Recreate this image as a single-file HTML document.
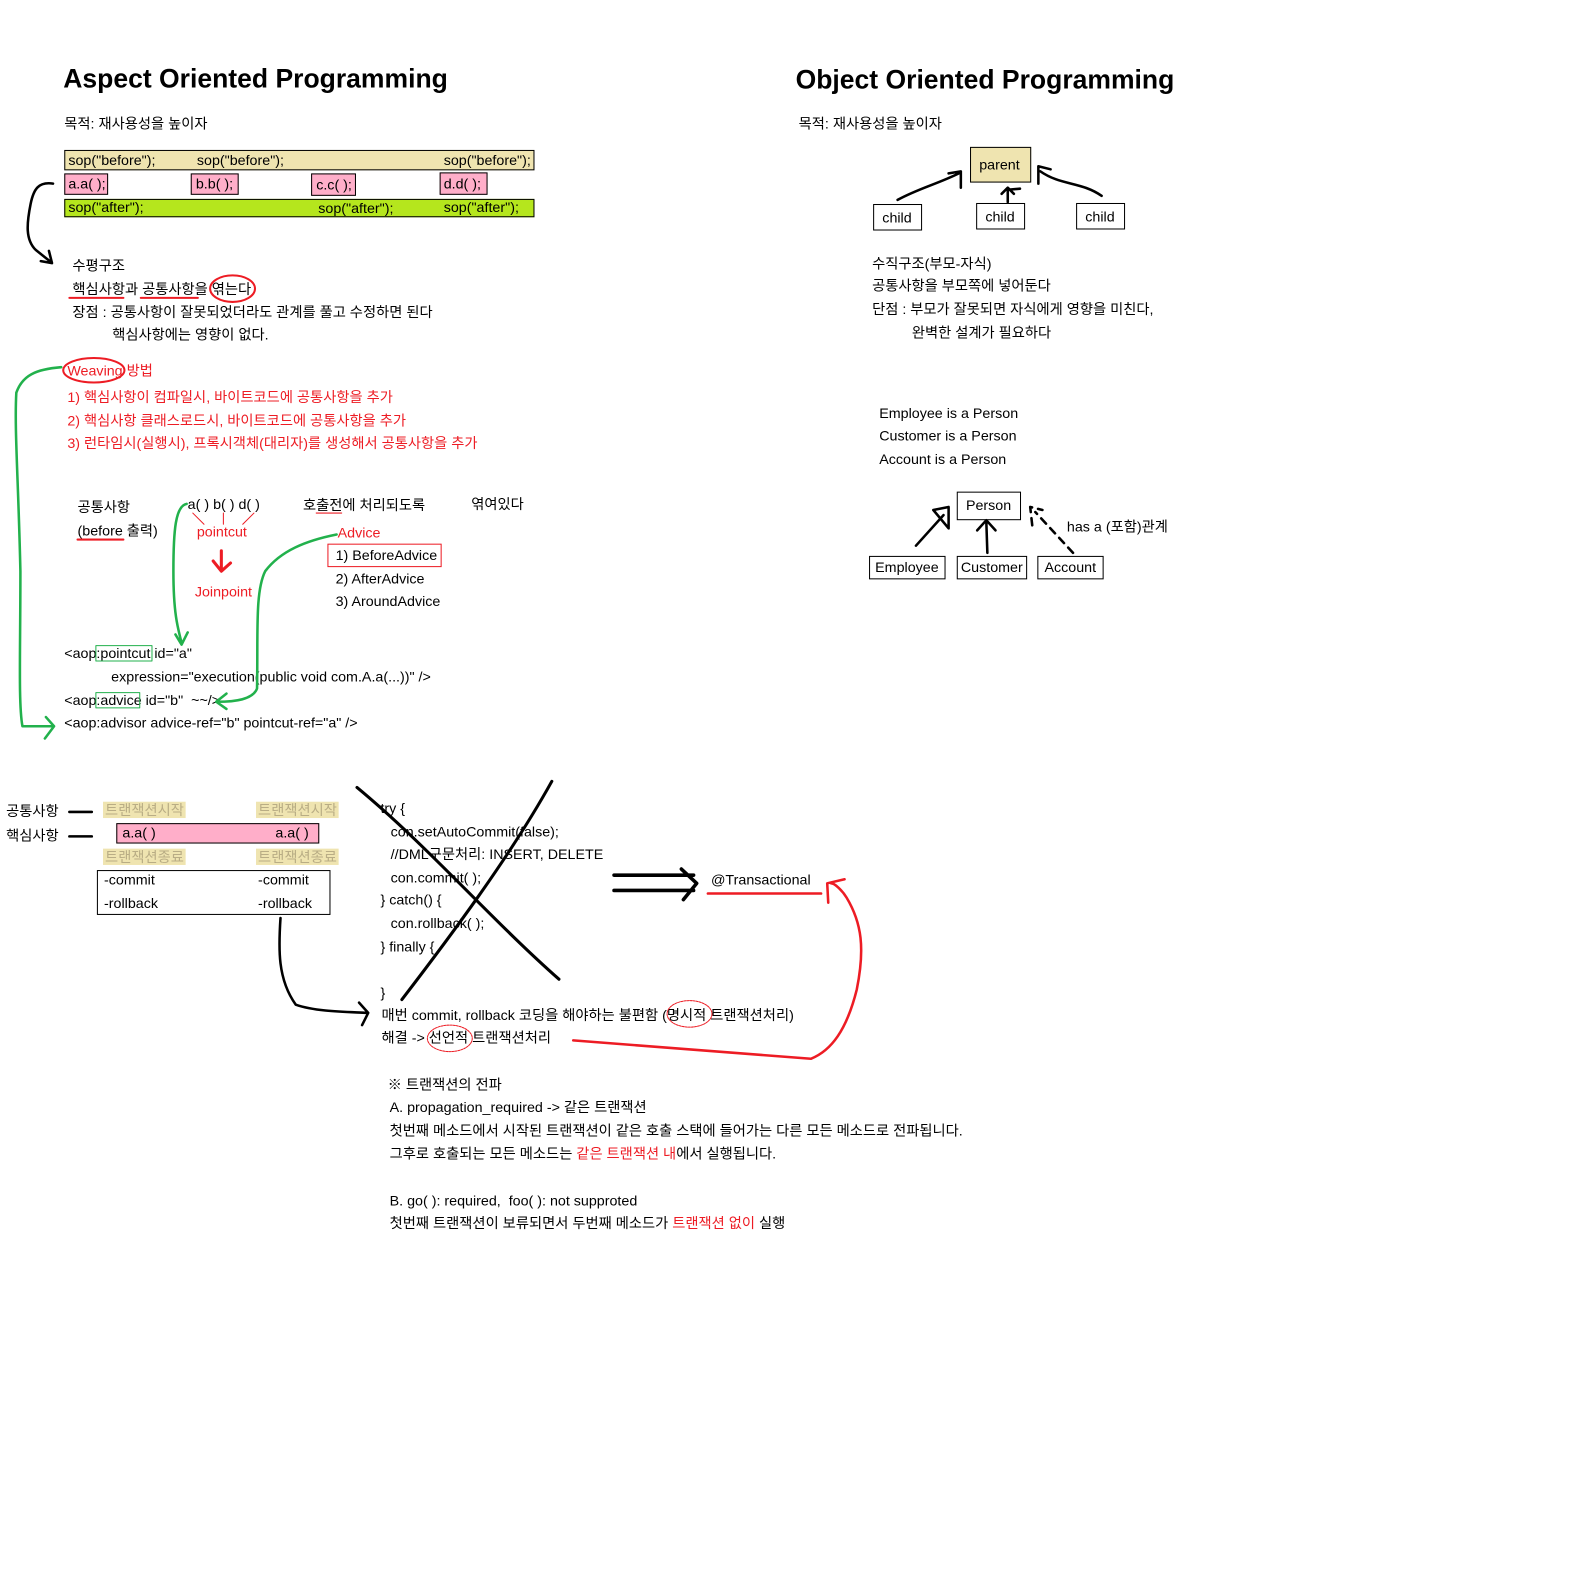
<!DOCTYPE html>
<html><head><meta charset="utf-8">
<style>
html,body{margin:0;padding:0;background:#fff;width:1596px;height:1592px;overflow:hidden}
#wrap{position:absolute;left:0;top:0;width:1565px;height:1561px;transform:scale(1.02);transform-origin:0 0;font-family:"Liberation Sans","Noto Sans CJK KR",sans-serif;font-size:14px;color:#000}
.t{position:absolute;white-space:nowrap;line-height:16px;top:0}
.r{color:#ed1c24}
.h{font-size:26px;font-weight:bold;line-height:30px}
.bx{position:absolute;box-sizing:border-box;border:1px solid #000}
.bg{background:#efe4b0;color:#b9ad85;padding:0 2px}
svg{position:absolute;left:0;top:0}
</style></head><body>
<div id="wrap">
<!-- AOP -->
<div class="t h" style="left:62px;top:62px">Aspect Oriented Programming</div>
<div class="t" style="left:63px;top:113px">목적: 재사용성을 높이자</div>
<div class="bx" style="left:63px;top:147px;width:461px;height:20px;background:#efe4b0"></div>
<div class="bx" style="left:63px;top:195px;width:461px;height:18px;background:#b5e61d"></div>
<div class="bx" style="left:63px;top:170px;width:43px;height:21px;background:#ffaec9"></div>
<div class="bx" style="left:187px;top:170px;width:47px;height:21px;background:#ffaec9"></div>
<div class="bx" style="left:305px;top:170px;width:44px;height:22px;background:#ffaec9"></div>
<div class="bx" style="left:431px;top:169px;width:47px;height:22px;background:#ffaec9"></div>
<div class="t" style="left:67px;top:149px">sop("before");</div>
<div class="t" style="left:193px;top:149px">sop("before");</div>
<div class="t" style="left:435px;top:149px">sop("before");</div>
<div class="t" style="left:67px;top:172px">a.a( );</div>
<div class="t" style="left:192px;top:172px">b.b( );</div>
<div class="t" style="left:310px;top:173px">c.c( );</div>
<div class="t" style="left:435px;top:172px">d.d( );</div>
<div class="t" style="left:67px;top:195px">sop("after");</div>
<div class="t" style="left:312px;top:196px">sop("after");</div>
<div class="t" style="left:435px;top:195px">sop("after");</div>
<div class="t" style="left:71px;top:252px">수평구조</div>
<div class="t" style="left:71px;top:275px">핵심사항과 공통사항을 엮는다</div>
<div class="t" style="left:71px;top:298px">장점 : 공통사항이 잘못되었더라도 관계를 풀고 수정하면 된다</div>
<div class="t" style="left:110px;top:320px">핵심사항에는 영향이 없다.</div>
<div class="t r" style="left:66px;top:355px">Weaving 방법</div>
<div class="t r" style="left:66px;top:381px">1) 핵심사항이 컴파일시, 바이트코드에 공통사항을 추가</div>
<div class="t r" style="left:66px;top:404px">2) 핵심사항 클래스로드시, 바이트코드에 공통사항을 추가</div>
<div class="t r" style="left:66px;top:426px">3) 런타임시(실행시), 프록시객체(대리자)를 생성해서 공통사항을 추가</div>
<div class="t" style="left:76px;top:489px">공통사항</div>
<div class="t" style="left:76px;top:512px">(before 출력)</div>
<div class="t" style="left:184px;top:486px">a( ) b( ) d( )</div>
<div class="t r" style="left:193px;top:513px">pointcut</div>
<div class="t r" style="left:191px;top:572px">Joinpoint</div>
<div class="t" style="left:297px;top:487px">호출전에 처리되도록</div>
<div class="t" style="left:462px;top:486px">엮여있다</div>
<div class="t r" style="left:331px;top:514px">Advice</div>
<div class="bx" style="left:321px;top:533px;width:112px;height:23px;border-color:#ed1c24"></div>
<div class="t" style="left:329px;top:536px">1) BeforeAdvice</div>
<div class="t" style="left:329px;top:559px">2) AfterAdvice</div>
<div class="t" style="left:329px;top:581px">3) AroundAdvice</div>
<div class="t" style="left:63px;top:632px">&lt;aop:pointcut id="a"</div>
<div class="t" style="left:109px;top:655px">expression="execution(public void com.A.a(...))" /&gt;</div>
<div class="t" style="left:63px;top:678px">&lt;aop:advice id="b"&nbsp; ~~/&gt;</div>
<div class="t" style="left:63px;top:700px">&lt;aop:advisor advice-ref="b" pointcut-ref="a" /&gt;</div>
<!-- Transaction -->
<div class="t" style="left:6px;top:787px">공통사항</div>
<div class="t" style="left:6px;top:811px">핵심사항</div>
<div class="t bg" style="left:101px;top:786px">트랜잭션시작</div>
<div class="t bg" style="left:251px;top:786px">트랜잭션시작</div>
<div class="bx" style="left:114px;top:807px;width:199px;height:20px;background:#ffaec9"></div>
<div class="t" style="left:120px;top:808px">a.a( )</div>
<div class="t" style="left:270px;top:808px">a.a( )</div>
<div class="t bg" style="left:101px;top:832px">트랜잭션종료</div>
<div class="t bg" style="left:251px;top:832px">트랜잭션종료</div>
<div class="bx" style="left:95px;top:853px;width:229px;height:44px"></div>
<div class="t" style="left:102px;top:854px">-commit</div>
<div class="t" style="left:253px;top:854px">-commit</div>
<div class="t" style="left:102px;top:877px">-rollback</div>
<div class="t" style="left:253px;top:877px">-rollback</div>
<div class="t" style="left:373px;top:784px">try {</div>
<div class="t" style="left:383px;top:807px">con.setAutoCommit(false);</div>
<div class="t" style="left:383px;top:829px">//DML구문처리: INSERT, DELETE</div>
<div class="t" style="left:383px;top:852px">con.commit( );</div>
<div class="t" style="left:373px;top:874px">} catch() {</div>
<div class="t" style="left:383px;top:897px">con.rollback( );</div>
<div class="t" style="left:373px;top:920px">} finally {</div>
<div class="t" style="left:373px;top:965px">}</div>
<div class="t" style="left:374px;top:987px">매번 commit, rollback 코딩을 해야하는 불편함 (명시적 트랜잭션처리)</div>
<div class="t" style="left:374px;top:1009px">해결 -&gt; 선언적 트랜잭션처리</div>
<div class="t" style="left:697px;top:854px">@Transactional</div>
<div class="t" style="left:380px;top:1055px">※ 트랜잭션의 전파</div>
<div class="t" style="left:382px;top:1077px">A. propagation_required -&gt; 같은 트랜잭션</div>
<div class="t" style="left:382px;top:1100px">첫번째 메소드에서 시작된 트랜잭션이 같은 호출 스택에 들어가는 다른 모든 메소드로 전파됩니다.</div>
<div class="t" style="left:382px;top:1123px">그후로 호출되는 모든 메소드는 <span class="r">같은 트랜잭션 내</span>에서 실행됩니다.</div>
<div class="t" style="left:382px;top:1169px">B. go( ): required,&nbsp; foo( ): not supproted</div>
<div class="t" style="left:382px;top:1191px">첫번째 트랜잭션이 보류되면서 두번째 메소드가 <span class="r">트랜잭션 없이</span> 실행</div>
<!-- OOP -->
<div class="t h" style="left:780px;top:63px">Object Oriented Programming</div>
<div class="t" style="left:783px;top:113px">목적: 재사용성을 높이자</div>
<div class="bx" style="left:951px;top:144px;width:60px;height:35px;background:#efe4b0"></div>
<div class="t" style="left:960px;top:153px">parent</div>
<div class="bx" style="left:856px;top:200px;width:48px;height:26px"></div>
<div class="t" style="left:865px;top:205px">child</div>
<div class="bx" style="left:957px;top:199px;width:48px;height:26px"></div>
<div class="t" style="left:966px;top:204px">child</div>
<div class="bx" style="left:1055px;top:199px;width:48px;height:26px"></div>
<div class="t" style="left:1064px;top:204px">child</div>
<div class="t" style="left:855px;top:250px">수직구조(부모-자식)</div>
<div class="t" style="left:855px;top:272px">공통사항을 부모쪽에 넣어둔다</div>
<div class="t" style="left:855px;top:295px">단점 : 부모가 잘못되면 자식에게 영향을 미친다,</div>
<div class="t" style="left:894px;top:318px">완벽한 설계가 필요하다</div>
<div class="t" style="left:862px;top:397px">Employee is a Person</div>
<div class="t" style="left:862px;top:419px">Customer is a Person</div>
<div class="t" style="left:862px;top:442px">Account is a Person</div>
<div class="bx" style="left:938px;top:482px;width:63px;height:28px"></div>
<div class="t" style="left:947px;top:487px">Person</div>
<div class="bx" style="left:852px;top:545px;width:75px;height:23px"></div>
<div class="t" style="left:858px;top:548px">Employee</div>
<div class="bx" style="left:938px;top:545px;width:69px;height:23px"></div>
<div class="t" style="left:942px;top:548px">Customer</div>
<div class="bx" style="left:1017px;top:545px;width:65px;height:23px"></div>
<div class="t" style="left:1024px;top:548px">Account</div>
<div class="t" style="left:1046px;top:508px">has a (포함)관계</div>

<svg width="1565" height="1561" fill="none" stroke-linecap="round" stroke-linejoin="round">
<g stroke="#000" stroke-width="2.5">
<path d="M52 180 C38 178 33 185 30 200 C26 220 25 235 35 245 L50 257 M40 256 L51 258 L48 246"/>
<path d="M68 796 H90 M68 820 H90"/>
<path d="M350 772 C420 830 480 900 548 960 M541 766 C500 840 440 920 394 980" stroke-width="3"/>
<path d="M275 900 C273 930 272 960 290 985 C310 992 340 992 360 993 M352 983 L361 993 L355 1005" stroke-width="2.5"/>
<path d="M602 858 H680 M602 873 H680 M668 852 L683 866 L670 882" stroke-width="3.5"/>
<path d="M880 196 C900 185 920 180 940 170 M930 170 L942 168 L942 184"/>
<path d="M988 198 V186 L1000 185 M982 190 L988 184 L994 190"/>
<path d="M1080 192 C1060 178 1040 182 1020 168 M1018 180 L1018 163 L1030 166"/>
<path d="M898 535 L925 505 M915 500 L930 497 L930 518 Z"/>
<path d="M968 542 L967 512 M958 520 L967 510 L976 520"/>
<path d="M1052 542 L1015 502 M1012 515 L1010 497 L1022 500" stroke-dasharray="7 6"/>
</g>
<g stroke="#22b14c" stroke-width="2.5">
<path d="M60 360 C35 362 22 368 16 385 C14 420 18 470 20 560 C20 640 18 690 22 712 L52 712 M45 703 L53 712 L44 724"/>
<path d="M183 494 C172 496 170 520 170 560 C170 600 174 615 178 630 M172 622 L178 632 L184 620"/>
<path d="M330 524 C300 530 275 540 260 560 C250 580 253 620 252 675 C248 686 230 688 213 688 M222 680 L212 688 L222 695"/>
<rect x="94" y="633" width="55" height="15" stroke-width="1"/>
<rect x="94" y="679" width="43" height="15" stroke-width="1"/>
</g>
<g stroke="#ed1c24" stroke-width="2.5">
<path d="M68 292 H121 M138 292 H194 M76 529 H121" stroke-width="2"/>
<path d="M310 503 H335" stroke-width="1"/>
<ellipse cx="228" cy="283" rx="22" ry="13" stroke-width="2"/>
<ellipse cx="92" cy="363" rx="30" ry="12" stroke-width="2"/>
<path d="M189 503 L200 514 M219 503 V514 M249 503 L238 514" stroke-width="1"/>
<path d="M217 540 V558 M209 550 L217 560 L226 552" stroke-width="3"/>
<path d="M694 876 H805" stroke-width="2.5"/>
<path d="M562 1020 C620 1024 700 1030 795 1038 C815 1030 830 1010 840 970 C848 930 845 905 830 880 C825 872 818 866 815 866 M812 885 L811 866 L828 862"/>
<ellipse cx="676" cy="994" rx="22" ry="13" stroke-width="1" stroke-dasharray="2 1"/>
<ellipse cx="441" cy="1018" rx="22" ry="13" stroke-width="1" stroke-dasharray="2 1"/>
</g>
</svg>
</div>
</body></html>
